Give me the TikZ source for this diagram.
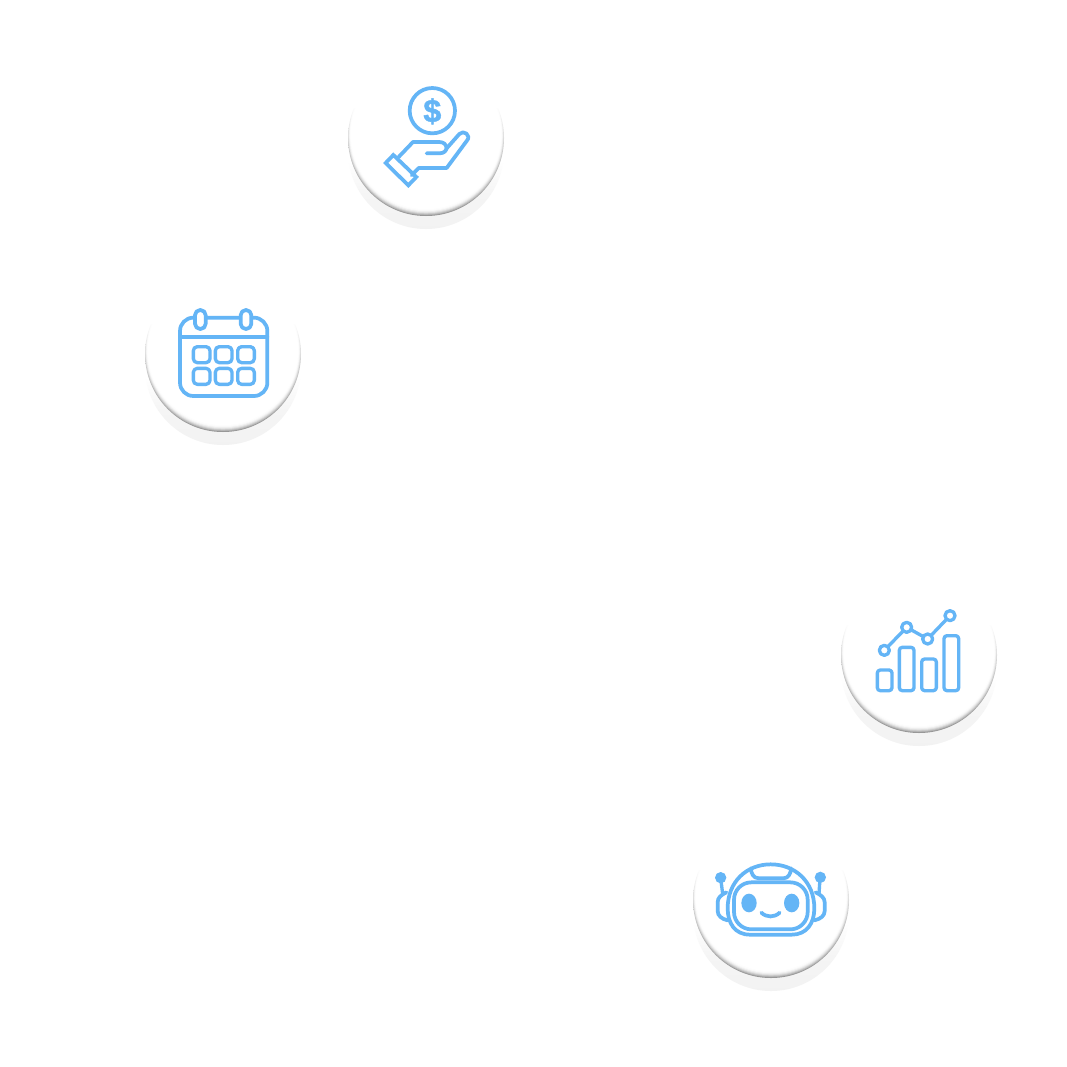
\documentclass[tikz,border=0pt]{standalone}
\usepackage{fontspec}
\setmainfont{Liberation Sans}
\newfontfamily\dollarfont[BoldFeatures={FakeBold=1.6}]{Liberation Sans}
\definecolor{iconblue}{HTML}{64B5F6}
\pgfdeclareverticalshading{softdrop}{100bp}{rgb(0bp)=(.95,.95,.95); rgb(25bp)=(.95,.95,.95); rgb(36bp)=(.96,.96,.96); rgb(47bp)=(1,1,1); rgb(100bp)=(1,1,1)}
\pgfdeclareverticalshading{rimdrop}{100bp}{rgb(0bp)=(.58,.58,.58); rgb(25bp)=(.58,.58,.58); rgb(30bp)=(.62,.62,.62); rgb(40bp)=(.72,.72,.72); rgb(50bp)=(.84,.84,.84); rgb(60bp)=(1,1,1); rgb(100bp)=(1,1,1)}
\tikzset{
  ico/.style={draw=iconblue,line width=2.8pt,line join=round,line cap=round},
  thinico/.style={draw=iconblue,line width=2.5pt,line join=round,line cap=round},
  dot/.style={fill=iconblue,draw=none}
}
\newcommand{\badge}[2]{%
  \shade[shading=softdrop] (#1,#2+13) circle[radius=78];
  \shade[shading=rimdrop] (#1,#2) circle[radius=78];
  \fill[white,opacity=.25] (#1,#2-.4) circle[radius=77.6];
  \fill[white,opacity=.3] (#1,#2-.9) circle[radius=77.2];
  \fill[white,opacity=.4] (#1,#2-1.5) circle[radius=76.8];
  \fill[white,opacity=.5] (#1,#2-2.1) circle[radius=76.4];
  \fill[white,opacity=.65] (#1,#2-2.8) circle[radius=76];
  \fill[white,opacity=.8] (#1,#2-3.4) circle[radius=75.6];
  \fill[white] (#1,#2-4) circle[radius=75.2];
}
\begin{document}
\begin{tikzpicture}[x=0.75pt,y=-0.75pt]
\useasboundingbox (0,0) rectangle (1067,1067);
\fill[white] (0,0) rectangle (1067,1067);
\badge{426}{138}
\badge{223}{354}
\badge{919}{655}
\badge{771}{900}
% hand and coin
\begin{scope}[shift={(340,70)},x=0.25pt,y=-0.25pt]
  \draw[ico] (277,122) circle[radius=68];
  \node[text=iconblue,font=\dollarfont\bfseries\fontsize{24pt}{24pt}\selectfont,inner sep=0pt] (dollar) at (277,124) {\$};
  \draw[ico,line join=miter] (160,255) -- (137,279) -- (205,346) -- (229,321) -- cycle;
  \draw[ico] (175,262) -- (219,216) -- (298,216) .. controls (325,216) and (328,250) .. (298,250) -- (260,250);
  \draw[ico] (320,235) -- (358,192) .. controls (370,178) and (396,196) .. (380,213) -- (320,294) -- (236,294) -- (215,316);
\end{scope}
% calendar
\begin{scope}[shift={(135,295)},x=0.25pt,y=-0.25pt]
  \draw[ico,rounded corners=10pt] (135,68) rectangle (397,303);
  \draw[ico] (135,125) -- (397,125);
  \draw[ico,fill=white,rounded corners=3.9pt] (180,45) rectangle (212,102);
  \draw[ico,fill=white,rounded corners=3.9pt] (317,45) rectangle (349,102);
  \foreach \cx in {175,241,308}
    \foreach \cy in {155,220}
      \draw[thinico,rounded corners=3pt] (\cx,\cy) rectangle ++(50,48);
\end{scope}
% chart
\begin{scope}[shift={(830,595)},x=0.25pt,y=-0.25pt]
  \draw[thinico] (163,166) -- (230,97) -- (293,132) -- (360,62);
  \foreach \px/\py in {163/166,230/97,293/132,360/62}
    \draw[thinico,fill=white] (\px,\py) circle[radius=15];
  \foreach \ax/\ay in {142/225,208/157,275/192,342/122}
    \draw[thinico,rounded corners=2.2pt] (\ax,\ay) rectangle (\ax+44,287);
\end{scope}
% robot
\begin{scope}[shift={(685,845)},x=0.25pt,y=-0.25pt]
  \draw[ico] (195,269) .. controls (150,269) and (128,235) .. (128,190) .. controls (128,110) and (185,58) .. (257,58) .. controls (330,58) and (388,110) .. (388,190) .. controls (388,235) and (365,269) .. (320,269) -- cycle;
  \draw[ico,rounded corners=13pt] (147,112) rectangle (368,253);
  \draw[ico] (198,70) .. controls (198,85) and (205,100) .. (222,100) -- (295,100) .. controls (310,100) and (318,85) .. (318,70);
  \draw[ico] (124,142) .. controls (108,150) and (98,158) .. (98,172) -- (98,198) .. controls (98,212) and (110,222) .. (128,226);
  \draw[ico] (392,142) .. controls (408,150) and (419,158) .. (419,172) -- (419,198) .. controls (419,212) and (407,222) .. (388,226);
  \draw[thinico] (107,100) -- (113,146);
  \draw[thinico] (405,100) -- (402,146);
  \fill[dot] (107,98) circle[radius=17];
  \fill[dot] (406,97) circle[radius=17];
  \fill[dot] (192,174) ellipse[x radius=23,y radius=28];
  \fill[dot] (320,174) ellipse[x radius=23,y radius=28];
  \draw[ico] (229,203) .. controls (245,218) and (268,218) .. (284,203);
\end{scope}
\end{tikzpicture}
\end{document}
